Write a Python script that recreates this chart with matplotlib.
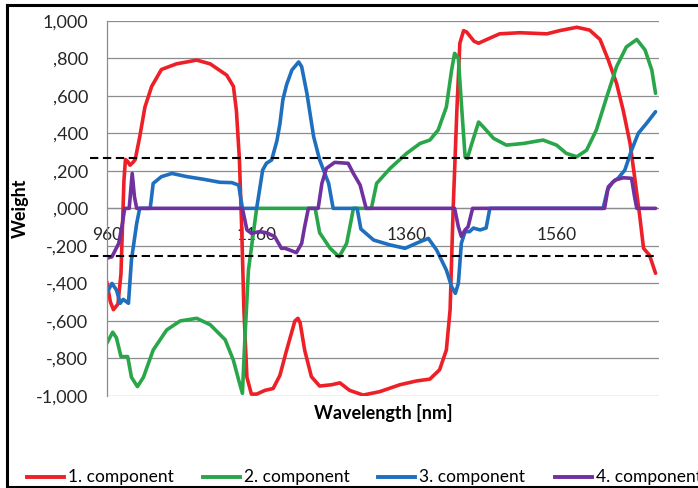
import matplotlib
matplotlib.use("Agg")
import matplotlib.pyplot as plt
from matplotlib.lines import Line2D
from matplotlib.transforms import blended_transform_factory, ScaledTranslation

# ---------------- data ----------------
wl1 = [960, 965, 969, 975, 979, 981, 983, 985, 988, 991, 995, 998, 1004, 1011, 1020, 1033, 1053, 1080,
       1098, 1120, 1129, 1133, 1137, 1140, 1143, 1147, 1153, 1160, 1171, 1182, 1191, 1200, 1211, 1215,
       1218, 1224, 1233, 1244, 1260, 1271, 1284, 1302, 1324, 1351, 1373, 1391, 1404, 1413, 1418, 1422,
       1427, 1431, 1436, 1440, 1444, 1450, 1456, 1467, 1484, 1511, 1547, 1564, 1587, 1604, 1618, 1629,
       1640, 1649, 1658, 1664, 1671, 1676, 1684, 1692]
comp1 = [-0.39, -0.50, -0.54, -0.51, -0.35, -0.10, 0.15, 0.26, 0.25, 0.23, 0.245, 0.26, 0.38, 0.54, 0.65,
         0.74, 0.77, 0.79, 0.77, 0.71, 0.65, 0.52, 0.26, -0.10, -0.54, -0.90, -0.99, -0.99, -0.97, -0.96,
         -0.89, -0.755, -0.60, -0.586, -0.61, -0.755, -0.897, -0.947, -0.94, -0.93, -0.97, -0.995, -0.977,
         -0.94, -0.92, -0.91, -0.86, -0.755, -0.54, -0.01, 0.52, 0.88, 0.947, 0.94, 0.92, 0.89, 0.88, 0.90,
         0.93, 0.936, 0.93, 0.947, 0.965, 0.95, 0.90, 0.79, 0.666, 0.52, 0.346, 0.17, -0.044, -0.213,
         -0.25, -0.346]

wl2 = [960, 968, 973, 979, 988, 993, 1001, 1009, 1022, 1040, 1058, 1080, 1098, 1118, 1129, 1136, 1141,
       1144, 1149, 1155, 1160, 1238, 1244, 1258, 1270, 1280, 1287, 1289, 1313, 1320, 1338, 1360, 1378,
       1391, 1402, 1413, 1420, 1424, 1429, 1433, 1438, 1441, 1447, 1456, 1462, 1476, 1493, 1516, 1542,
       1560, 1573, 1587, 1600, 1613, 1627, 1640, 1653, 1667, 1678, 1687, 1692]
comp2 = [-0.72, -0.66, -0.69, -0.79, -0.79, -0.90, -0.95, -0.90, -0.755, -0.648, -0.60, -0.586, -0.62,
         -0.70, -0.81, -0.915, -0.986, -0.72, -0.33, -0.15, 0.0, 0.0, -0.13, -0.213, -0.258, -0.187,
         -0.044, 0.0, 0.0, 0.133, 0.213, 0.293, 0.346, 0.364, 0.417, 0.54, 0.737, 0.826, 0.80, 0.56,
         0.275, 0.266, 0.346, 0.46, 0.435, 0.373, 0.337, 0.346, 0.364, 0.337, 0.293, 0.275, 0.31, 0.417,
         0.595, 0.755, 0.86, 0.90, 0.844, 0.737, 0.613]

wl3 = [960, 967, 973, 978, 982, 989, 993, 1000, 1004, 1018, 1022, 1033, 1047, 1067, 1089, 1111, 1127,
       1136, 1141, 1160, 1168, 1173, 1180, 1187, 1191, 1195, 1200, 1207, 1216, 1220, 1227, 1236, 1244,
       1256, 1262, 1294, 1299, 1316, 1338, 1358, 1373, 1389, 1400, 1413, 1420, 1425, 1429, 1433, 1438,
       1444, 1449, 1458, 1466, 1471, 1622, 1628, 1635, 1642, 1651, 1660, 1669, 1680, 1692]
comp3 = [-0.453, -0.40, -0.435, -0.506, -0.485, -0.506, -0.275, -0.08, 0.0, 0.0, 0.133, 0.169, 0.186,
         0.169, 0.155, 0.139, 0.137, 0.124, 0.0, 0.0, 0.204, 0.24, 0.258, 0.36, 0.45, 0.58, 0.66, 0.737,
         0.78, 0.755, 0.613, 0.382, 0.258, 0.133, 0.0, 0.0, -0.11, -0.169, -0.195, -0.213, -0.186, -0.16,
         -0.222, -0.329, -0.417, -0.453, -0.40, -0.186, -0.124, -0.124, -0.105, -0.115, -0.105, 0.0, 0.0,
         0.10, 0.14, 0.16, 0.204, 0.31, 0.40, 0.453, 0.515]

wl4 = [960, 967, 976, 981, 984, 990, 994, 997, 1000, 1141, 1147, 1153, 1164, 1173, 1184, 1193, 1198,
       1204, 1213, 1220, 1224, 1229, 1242, 1247, 1253, 1264, 1282, 1289, 1298, 1302, 1306, 1424, 1429,
       1433, 1438, 1442, 1448, 1624, 1629, 1638, 1649, 1660, 1664, 1667, 1692]
comp4 = [-0.266, -0.258, -0.187, -0.08, 0.0, 0.0, 0.186, 0.062, 0.0, 0.0, -0.115, -0.133, -0.124, -0.13,
         -0.15, -0.213, -0.213, -0.222, -0.236, -0.187, -0.098, 0.0, 0.0, 0.133, 0.213, 0.245, 0.24, 0.186,
         0.124, 0.062, 0.0, 0.0, -0.098, -0.15, -0.115, -0.098, 0.0, 0.0, 0.115, 0.151, 0.163, 0.16, 0.062,
         0.0, 0.0]

thresholds = [0.27, -0.255]
xticks = [960, 1160, 1360, 1560]
yticks = [1.0, 0.8, 0.6, 0.4, 0.2, 0.0, -0.2, -0.4, -0.6, -0.8, -1.0]
ytick_labels = ["1,000", ",800", ",600", ",400", ",200", ",000", "-,200", "-,400", "-,600", "-,800", "-1,000"]
series_names = ["1. component", "2. component", "3. component", "4. component"]
colors = ["#EE2027", "#2AA64A", "#1F6FBF", "#7030A0"]

# ---------------- figure ----------------
W, H = 698, 488
fig = plt.figure(figsize=(W / 100, H / 100), dpi=100)
FONT = "Lato"

left, right, top, bottom = 106.7, 659.3, 20.7, 396.0
ax = fig.add_axes([left / W, 1 - bottom / H, (right - left) / W, (bottom - top) / H])
ax.set_xlim(960, 1697)
ax.set_ylim(-1, 1)
ax.set_axisbelow(True)

grid_c = "#8C8C8C"
for s in ["top", "right", "bottom"]:
    ax.spines[s].set_visible(False)
ax.spines["left"].set_color(grid_c)
ax.spines["left"].set_linewidth(0.9)
ax.yaxis.grid(True, color=grid_c, linewidth=0.9)
ax.axhline(0, color=grid_c, linewidth=0.9, zorder=0.6)

ax.set_yticks(yticks)
ax.set_yticklabels(ytick_labels, fontfamily=FONT, fontsize=13, color="#262626")
ax.tick_params(axis="y", length=0, pad=13.5)
ax.set_xticks(xticks)
ax.set_xticklabels([])
ax.tick_params(axis="x", length=0, pad=0)
xtr = blended_transform_factory(ax.transData, ax.transData)
for t in xticks:
    ax.text(t, 0, str(t), transform=xtr + ScaledTranslation(0, -27 / 100, fig.dpi_scale_trans),
            ha="center", va="center", fontfamily=FONT, fontsize=12.5, color="#262626", zorder=0.7)

lw = 2.6
for wl, vals, c in zip([wl1, wl2, wl3, wl4], [comp1, comp2, comp3, comp4], colors):
    ax.plot(wl, vals, color=c, linewidth=lw, solid_joinstyle="round", solid_capstyle="round", zorder=2)

for th in thresholds:
    ax.plot([938, 1693], [th, th], color="black", linewidth=1.5, dashes=(4, 2.2), clip_on=False, zorder=3)

fig.text(20 / W, 1 - 208 / H, "Weight", rotation=90, ha="center", va="center",
         fontfamily=FONT, fontsize=13, fontweight="bold", color="black")
fig.text(383 / W, 1 - 413 / H, "Wavelength [nm]", ha="center", va="center",
         fontfamily=FONT, fontsize=13, fontweight="bold", color="black")

# legend (bottom row, cut at the right edge as in the reference)
leg_y = 1 - 477 / H
leg_x = [27, 203, 378, 555]
for x0, name, c in zip(leg_x, series_names, colors):
    fig.add_artist(Line2D([x0 / W, (x0 + 37) / W], [leg_y, leg_y], color=c, linewidth=2.8,
                          transform=fig.transFigure))
    fig.text((x0 + 41) / W, leg_y, name, ha="left", va="center", fontfamily=FONT, fontsize=12.5,
             color="black")

# outer frame
fig.add_artist(Line2D([6.5 / W, 6.5 / W], [1 - 4.5 / H, 1 - 486.5 / H], color="black", linewidth=2.2,
                      transform=fig.transFigure))
fig.add_artist(Line2D([6.5 / W, 1.0], [1 - 4.5 / H, 1 - 4.5 / H], color="black", linewidth=2.2,
                      transform=fig.transFigure))
fig.add_artist(Line2D([6.5 / W, 1.0], [1 - 486.8 / H, 1 - 486.8 / H], color="black", linewidth=2.2,
                      transform=fig.transFigure))

fig.savefig("out.png", dpi=100)
